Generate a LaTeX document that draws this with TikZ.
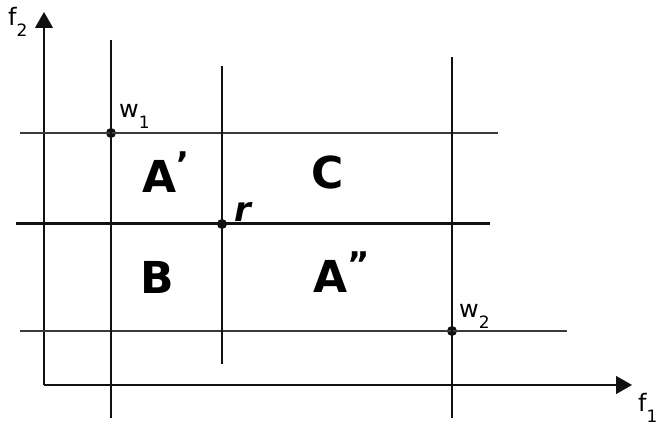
\documentclass[tikz,border=0pt]{standalone}
\usepackage{fontspec}
\setmainfont{DejaVu Sans}
\usetikzlibrary{arrows.meta, positioning}
\definecolor{ink}{HTML}{111111}
\definecolor{gridline}{HTML}{3A3A3A}
\tikzset{
    axis/.style={-{Triangle[length=16pt, width=18pt]}, line width=1.4pt, color=ink},
    bound/.style={line width=2.5pt, color=ink},
    level/.style={line width=1.6pt, color=gridline},
    pivot/.style={line width=3pt, color=ink},
    point/.style={circle, fill=ink, inner sep=0pt, minimum size=10pt},
    region/.style={font=\fontsize{44}{44}\selectfont\bfseries, inner sep=0pt, anchor=base west},
    tag/.style={font=\fontsize{24}{24}\selectfont, inner sep=0pt, anchor=base west}
}
\newcommand{\lowidx}[2]{#1\raisebox{-11pt}{\fontsize{17}{17}\selectfont #2}}
\newcommand{\highmark}[1]{\raisebox{16pt}{\fontsize{34}{34}\selectfont #1}}

\begin{document}
\begin{tikzpicture}[x=1pt, y=-1pt]
    \useasboundingbox (0,0) rectangle (657,425);

    % objective axes
    \coordinate (o) at (44,385);
    \coordinate (f2end) at (44,12);
    \coordinate (f1end) at (632,385);
    \draw [axis] (o) -- (f2end);
    \draw [axis] (o) -- (f1end);
    \node [tag] (f2) at (8,26) {\lowidx{f}{2}};
    \node [tag] (f1) at (638,411) {\lowidx{f}{1}};

    % points
    \node [point] (w1) at (111,133) {};
    \node [point] (r) at (222,224) {};
    \node [point] (w2) at (452,331) {};

    % lines through the points
    \draw [level] (w1 -| 20,0) -- (w1 -| 498,0);
    \draw [pivot] (r -| 16,0) -- (r -| 490,0);
    \draw [level] (w2 -| 20,0) -- (w2 -| 567,0);
    \draw [bound] (w1 |- 0,40) -- (w1 |- 0,418);
    \draw [bound] (r |- 0,66) -- (r |- 0,364);
    \draw [bound] (w2 |- 0,57) -- (w2 |- 0,418);

    % labels
    \node [tag] (w1lab) at (119,118) {\lowidx{w}{1}};
    \node [tag] (w2lab) at (459,318) {\lowidx{w}{2}};
    \node [tag, font=\fontsize{34}{34}\selectfont\bfseries\itshape] (rlab) at (234,222) {r};
    \node [region] (a1) at (142,193) {A\highmark{'}};
    \node [region] (c) at (311,189) {C};
    \node [region] (b) at (140,294) {B};
    \node [region] (a2) at (313,293) {A\highmark{''}};
\end{tikzpicture}
\end{document}
